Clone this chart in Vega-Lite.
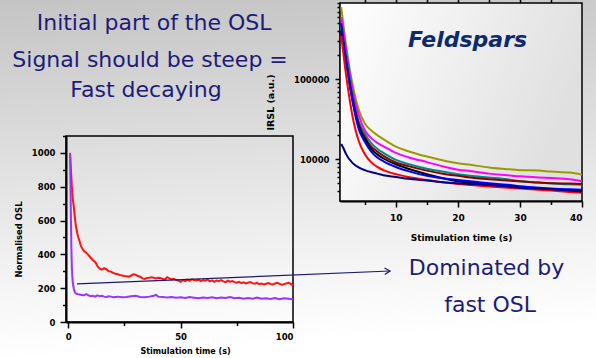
{
  "$schema": "https://vega.github.io/schema/vega-lite/v6.json",
  "width": 596,
  "height": 358,
  "padding": 0,
  "autosize": {"type": "none"},
  "config": {
    "view": {"stroke": null, "fill": {"gradient": "linear", "x1": 0, "y1": 0, "x2": 0.1, "y2": 1, "stops": [{"offset": 0, "color": "#c4c4c4"}, {"offset": 0.8, "color": "#f5f5f5"}, {"offset": 1, "color": "#ffffff"}]}},
    "font": "DejaVu Sans",
    "axis": {"domainColor": "#000000", "domainWidth": 2, "tickColor": "#000000", "tickWidth": 1.5, "labelColor": "#000000", "labelFont": "DejaVu Sans", "labelFontWeight": "bold", "labelFontSize": 8.5, "titleFont": "DejaVu Sans", "titleFontWeight": "bold", "titleFontSize": 8.5, "titleColor": "#000000", "grid": false}
  },
  "layer": [
    {
      "data": {"values": [{}]},
      "mark": {"type": "rect", "fill": "transparent", "stroke": "#000000", "strokeWidth": 1.5},
      "encoding": {"x": {"datum": -1, "type": "quantitative", "scale": {"domain": [-1, 100], "range": [66, 293], "nice": false, "zero": false}, "axis": null}, "x2": {"datum": 100}, "y": {"datum": 0, "type": "quantitative", "scale": {"domain": [0, 1100], "range": [322, 136], "nice": false, "zero": false}, "axis": null}, "y2": {"datum": 1100}}
    },
    {
      "data": {"values": [
        {"s": "r", "t": 0.8, "v": 1000}, {"s": "r", "t": 1.2, "v": 900}, {"s": "r", "t": 1.6, "v": 800}, {"s": "r", "t": 2, "v": 730}, {"s": "r", "t": 2.5, "v": 680}, {"s": "r", "t": 3, "v": 610}, {"s": "r", "t": 3.5, "v": 560}, {"s": "r", "t": 4, "v": 525}, {"s": "r", "t": 4.5, "v": 500}, {"s": "r", "t": 5, "v": 480}, {"s": "r", "t": 5.5, "v": 455}, {"s": "r", "t": 6, "v": 440}, {"s": "r", "t": 7, "v": 420}, {"s": "r", "t": 8, "v": 410}, {"s": "r", "t": 9, "v": 395}, {"s": "r", "t": 10, "v": 380}, {"s": "r", "t": 11, "v": 365}, {"s": "r", "t": 12, "v": 355}, {"s": "r", "t": 13, "v": 330}, {"s": "r", "t": 14, "v": 315}, {"s": "r", "t": 15, "v": 310}, {"s": "r", "t": 16, "v": 318}, {"s": "r", "t": 17, "v": 312}, {"s": "r", "t": 18, "v": 300}, {"s": "r", "t": 19, "v": 298}, {"s": "r", "t": 20, "v": 290}, {"s": "r", "t": 21, "v": 285}, {"s": "r", "t": 22, "v": 282}, {"s": "r", "t": 23, "v": 278}, {"s": "r", "t": 24, "v": 275}, {"s": "r", "t": 25, "v": 272}, {"s": "r", "t": 26, "v": 270}, {"s": "r", "t": 27, "v": 268}, {"s": "r", "t": 28, "v": 275}, {"s": "r", "t": 29, "v": 282}, {"s": "r", "t": 30, "v": 280}, {"s": "r", "t": 31, "v": 272}, {"s": "r", "t": 32, "v": 268}, {"s": "r", "t": 33, "v": 258}, {"s": "r", "t": 34, "v": 255}, {"s": "r", "t": 35, "v": 260}, {"s": "r", "t": 36, "v": 262}, {"s": "r", "t": 37, "v": 265}, {"s": "r", "t": 38, "v": 262}, {"s": "r", "t": 39, "v": 258}, {"s": "r", "t": 40, "v": 262}, {"s": "r", "t": 41, "v": 260}, {"s": "r", "t": 42, "v": 255}, {"s": "r", "t": 43, "v": 250}, {"s": "r", "t": 44, "v": 265}, {"s": "r", "t": 45, "v": 258}, {"s": "r", "t": 46, "v": 252}, {"s": "r", "t": 47, "v": 255}, {"s": "r", "t": 48, "v": 248}, {"s": "r", "t": 49, "v": 245}, {"s": "r", "t": 50, "v": 238}, {"s": "r", "t": 51, "v": 248}, {"s": "r", "t": 52, "v": 242}, {"s": "r", "t": 53, "v": 250}, {"s": "r", "t": 54, "v": 245}, {"s": "r", "t": 55, "v": 252}, {"s": "r", "t": 56, "v": 248}, {"s": "r", "t": 57, "v": 245}, {"s": "r", "t": 58, "v": 250}, {"s": "r", "t": 59, "v": 242}, {"s": "r", "t": 60, "v": 248}, {"s": "r", "t": 61, "v": 244}, {"s": "r", "t": 62, "v": 252}, {"s": "r", "t": 63, "v": 240}, {"s": "r", "t": 64, "v": 246}, {"s": "r", "t": 65, "v": 238}, {"s": "r", "t": 66, "v": 245}, {"s": "r", "t": 67, "v": 242}, {"s": "r", "t": 68, "v": 248}, {"s": "r", "t": 69, "v": 240}, {"s": "r", "t": 70, "v": 236}, {"s": "r", "t": 71, "v": 244}, {"s": "r", "t": 72, "v": 238}, {"s": "r", "t": 73, "v": 242}, {"s": "r", "t": 74, "v": 236}, {"s": "r", "t": 75, "v": 232}, {"s": "r", "t": 76, "v": 238}, {"s": "r", "t": 77, "v": 230}, {"s": "r", "t": 78, "v": 235}, {"s": "r", "t": 79, "v": 228}, {"s": "r", "t": 80, "v": 232}, {"s": "r", "t": 81, "v": 236}, {"s": "r", "t": 82, "v": 230}, {"s": "r", "t": 83, "v": 226}, {"s": "r", "t": 84, "v": 232}, {"s": "r", "t": 85, "v": 224}, {"s": "r", "t": 86, "v": 228}, {"s": "r", "t": 87, "v": 222}, {"s": "r", "t": 88, "v": 226}, {"s": "r", "t": 89, "v": 230}, {"s": "r", "t": 90, "v": 225}, {"s": "r", "t": 91, "v": 222}, {"s": "r", "t": 92, "v": 228}, {"s": "r", "t": 93, "v": 232}, {"s": "r", "t": 94, "v": 226}, {"s": "r", "t": 95, "v": 220}, {"s": "r", "t": 96, "v": 224}, {"s": "r", "t": 97, "v": 228}, {"s": "r", "t": 98, "v": 232}, {"s": "r", "t": 99, "v": 225}, {"s": "r", "t": 100, "v": 215},
        {"s": "p", "t": 0.8, "v": 1000}, {"s": "p", "t": 1, "v": 820}, {"s": "p", "t": 1.2, "v": 600}, {"s": "p", "t": 1.4, "v": 430}, {"s": "p", "t": 1.6, "v": 330}, {"s": "p", "t": 1.8, "v": 270}, {"s": "p", "t": 2, "v": 235}, {"s": "p", "t": 2.5, "v": 195}, {"s": "p", "t": 3, "v": 175}, {"s": "p", "t": 3.5, "v": 168}, {"s": "p", "t": 4, "v": 165}, {"s": "p", "t": 5, "v": 162}, {"s": "p", "t": 6, "v": 160}, {"s": "p", "t": 7, "v": 158}, {"s": "p", "t": 8, "v": 165}, {"s": "p", "t": 9, "v": 158}, {"s": "p", "t": 10, "v": 152}, {"s": "p", "t": 11, "v": 155}, {"s": "p", "t": 12, "v": 150}, {"s": "p", "t": 13, "v": 158}, {"s": "p", "t": 14, "v": 152}, {"s": "p", "t": 15, "v": 155}, {"s": "p", "t": 16, "v": 150}, {"s": "p", "t": 17, "v": 148}, {"s": "p", "t": 18, "v": 152}, {"s": "p", "t": 19, "v": 150}, {"s": "p", "t": 20, "v": 147}, {"s": "p", "t": 22, "v": 150}, {"s": "p", "t": 24, "v": 146}, {"s": "p", "t": 26, "v": 148}, {"s": "p", "t": 28, "v": 152}, {"s": "p", "t": 30, "v": 155}, {"s": "p", "t": 32, "v": 148}, {"s": "p", "t": 34, "v": 146}, {"s": "p", "t": 36, "v": 150}, {"s": "p", "t": 38, "v": 155}, {"s": "p", "t": 39, "v": 160}, {"s": "p", "t": 40, "v": 150}, {"s": "p", "t": 42, "v": 148}, {"s": "p", "t": 44, "v": 145}, {"s": "p", "t": 46, "v": 148}, {"s": "p", "t": 48, "v": 143}, {"s": "p", "t": 50, "v": 146}, {"s": "p", "t": 52, "v": 142}, {"s": "p", "t": 54, "v": 148}, {"s": "p", "t": 56, "v": 144}, {"s": "p", "t": 58, "v": 140}, {"s": "p", "t": 60, "v": 145}, {"s": "p", "t": 62, "v": 142}, {"s": "p", "t": 64, "v": 146}, {"s": "p", "t": 66, "v": 140}, {"s": "p", "t": 68, "v": 145}, {"s": "p", "t": 70, "v": 142}, {"s": "p", "t": 72, "v": 148}, {"s": "p", "t": 74, "v": 140}, {"s": "p", "t": 76, "v": 143}, {"s": "p", "t": 78, "v": 138}, {"s": "p", "t": 80, "v": 142}, {"s": "p", "t": 82, "v": 138}, {"s": "p", "t": 84, "v": 144}, {"s": "p", "t": 86, "v": 137}, {"s": "p", "t": 88, "v": 140}, {"s": "p", "t": 90, "v": 136}, {"s": "p", "t": 92, "v": 142}, {"s": "p", "t": 94, "v": 135}, {"s": "p", "t": 96, "v": 140}, {"s": "p", "t": 98, "v": 138}, {"s": "p", "t": 100, "v": 135}
      ]},
      "mark": {"type": "line", "strokeWidth": 2},
      "encoding": {
        "x": {"field": "t", "type": "quantitative", "scale": {"domain": [-1, 100], "range": [66, 293], "nice": false, "zero": false},
          "axis": {"orient": "bottom", "offset": -36, "values": [0, 25, 50, 75, 100], "labelExpr": "datum.value % 50 === 0 ? datum.label : ''", "tickSize": {"condition": {"test": "datum.value % 50 === 0", "value": 6}, "value": 3.5}, "labelPadding": 4, "title": "Stimulation time (s)", "titleFontSize": 8, "titlePadding": 7, "titleX": 185}},
        "y": {"field": "v", "type": "quantitative", "scale": {"domain": [0, 1100], "range": [322, 136], "nice": false, "zero": false},
          "axis": {"orient": "left", "offset": -66, "values": [0, 100, 200, 300, 400, 500, 600, 700, 800, 900, 1000, 1100], "format": "d", "labelExpr": "datum.value % 200 === 0 && datum.value <= 1000 ? datum.label : ''", "tickSize": {"condition": {"test": "datum.value % 200 === 0", "value": 6}, "value": 3.5}, "labelPadding": 5, "title": "Normalised OSL", "titlePadding": 8, "titleY": 239}},
        "color": {"field": "s", "type": "nominal", "scale": {"domain": ["r", "p"], "range": ["#ff1414", "#9933ff"]}, "legend": null}
      }
    },
    {
      "data": {"values": [{}]},
      "mark": {"type": "rect", "stroke": "#000000", "strokeWidth": 1.5, "fill": {"gradient": "linear", "x1": 0, "y1": 0, "x2": 1, "y2": 0.3, "stops": [{"offset": 0, "color": "#ffffff"}, {"offset": 1, "color": "#e0e0e0"}]}},
      "encoding": {"x": {"datum": 1, "type": "quantitative", "scale": {"domain": [1, 40], "range": [340, 582], "nice": false, "zero": false}, "axis": {"orient": "top", "offset": -3, "values": [5, 10, 15, 20, 25, 30, 35], "labels": false, "domain": false, "tickSize": 5, "title": null}}, "x2": {"datum": 40}, "y": {"datum": 3000, "type": "quantitative", "scale": {"type": "log", "domain": [3000, 900000], "range": [201, 3], "nice": false}, "axis": null}, "y2": {"datum": 900000}}
    },
    {
      "data": {"values": [
        {"s": "ol", "t": 1.2, "v": 800000}, {"s": "ol", "t": 2, "v": 260000}, {"s": "ol", "t": 3, "v": 88000}, {"s": "ol", "t": 4, "v": 42000}, {"s": "ol", "t": 5, "v": 28000}, {"s": "ol", "t": 6, "v": 23000}, {"s": "ol", "t": 7, "v": 20000}, {"s": "ol", "t": 8, "v": 17800}, {"s": "ol", "t": 10, "v": 14400}, {"s": "ol", "t": 12, "v": 12600}, {"s": "ol", "t": 15, "v": 10800}, {"s": "ol", "t": 18, "v": 9500}, {"s": "ol", "t": 20, "v": 8900}, {"s": "ol", "t": 22, "v": 8500}, {"s": "ol", "t": 25, "v": 7900}, {"s": "ol", "t": 28, "v": 7500}, {"s": "ol", "t": 30, "v": 7300}, {"s": "ol", "t": 33, "v": 7200}, {"s": "ol", "t": 35, "v": 7000}, {"s": "ol", "t": 38, "v": 6800}, {"s": "ol", "t": 40, "v": 6400},
        {"s": "mg", "t": 1.2, "v": 600000}, {"s": "mg", "t": 2, "v": 230000}, {"s": "mg", "t": 3, "v": 75000}, {"s": "mg", "t": 4, "v": 36000}, {"s": "mg", "t": 5, "v": 23000}, {"s": "mg", "t": 6, "v": 18500}, {"s": "mg", "t": 7, "v": 16000}, {"s": "mg", "t": 8, "v": 14500}, {"s": "mg", "t": 10, "v": 12000}, {"s": "mg", "t": 12, "v": 10600}, {"s": "mg", "t": 15, "v": 9200}, {"s": "mg", "t": 18, "v": 8000}, {"s": "mg", "t": 20, "v": 7400}, {"s": "mg", "t": 22, "v": 7100}, {"s": "mg", "t": 25, "v": 6600}, {"s": "mg", "t": 28, "v": 6300}, {"s": "mg", "t": 30, "v": 6100}, {"s": "mg", "t": 33, "v": 5900}, {"s": "mg", "t": 35, "v": 5800}, {"s": "mg", "t": 38, "v": 5600}, {"s": "mg", "t": 40, "v": 5300},
        {"s": "tl", "t": 1.2, "v": 450000}, {"s": "tl", "t": 2, "v": 200000}, {"s": "tl", "t": 3, "v": 65000}, {"s": "tl", "t": 4, "v": 30000}, {"s": "tl", "t": 5, "v": 21000}, {"s": "tl", "t": 6, "v": 16000}, {"s": "tl", "t": 7, "v": 13500}, {"s": "tl", "t": 8, "v": 12000}, {"s": "tl", "t": 10, "v": 9800}, {"s": "tl", "t": 12, "v": 8700}, {"s": "tl", "t": 15, "v": 7600}, {"s": "tl", "t": 18, "v": 6900}, {"s": "tl", "t": 20, "v": 6500}, {"s": "tl", "t": 22, "v": 6200}, {"s": "tl", "t": 25, "v": 5900}, {"s": "tl", "t": 28, "v": 5600}, {"s": "tl", "t": 30, "v": 5300}, {"s": "tl", "t": 33, "v": 5100}, {"s": "tl", "t": 35, "v": 5000}, {"s": "tl", "t": 38, "v": 4850}, {"s": "tl", "t": 40, "v": 4800},
        {"s": "dr", "t": 1.2, "v": 370000}, {"s": "dr", "t": 2, "v": 170000}, {"s": "dr", "t": 3, "v": 60000}, {"s": "dr", "t": 4, "v": 28000}, {"s": "dr", "t": 5, "v": 19000}, {"s": "dr", "t": 6, "v": 14500}, {"s": "dr", "t": 7, "v": 12500}, {"s": "dr", "t": 8, "v": 11000}, {"s": "dr", "t": 10, "v": 9100}, {"s": "dr", "t": 12, "v": 8200}, {"s": "dr", "t": 15, "v": 7200}, {"s": "dr", "t": 18, "v": 6500}, {"s": "dr", "t": 20, "v": 6200}, {"s": "dr", "t": 22, "v": 5900}, {"s": "dr", "t": 25, "v": 5600}, {"s": "dr", "t": 28, "v": 5400}, {"s": "dr", "t": 30, "v": 5300}, {"s": "dr", "t": 33, "v": 5100}, {"s": "dr", "t": 35, "v": 5000}, {"s": "dr", "t": 38, "v": 4950}, {"s": "dr", "t": 40, "v": 4900},
        {"s": "bk", "t": 1.2, "v": 400000}, {"s": "bk", "t": 2, "v": 160000}, {"s": "bk", "t": 3, "v": 55000}, {"s": "bk", "t": 4, "v": 26000}, {"s": "bk", "t": 5, "v": 18000}, {"s": "bk", "t": 6, "v": 13500}, {"s": "bk", "t": 7, "v": 11500}, {"s": "bk", "t": 8, "v": 10200}, {"s": "bk", "t": 10, "v": 8600}, {"s": "bk", "t": 12, "v": 7600}, {"s": "bk", "t": 15, "v": 6500}, {"s": "bk", "t": 18, "v": 5700}, {"s": "bk", "t": 20, "v": 5300}, {"s": "bk", "t": 22, "v": 5100}, {"s": "bk", "t": 25, "v": 4800}, {"s": "bk", "t": 28, "v": 4600}, {"s": "bk", "t": 30, "v": 4500}, {"s": "bk", "t": 33, "v": 4300}, {"s": "bk", "t": 35, "v": 4200}, {"s": "bk", "t": 38, "v": 4050}, {"s": "bk", "t": 40, "v": 3950},
        {"s": "bl", "t": 1.2, "v": 500000}, {"s": "bl", "t": 2, "v": 170000}, {"s": "bl", "t": 3, "v": 55000}, {"s": "bl", "t": 4, "v": 24000}, {"s": "bl", "t": 5, "v": 16500}, {"s": "bl", "t": 6, "v": 12500}, {"s": "bl", "t": 7, "v": 10500}, {"s": "bl", "t": 8, "v": 9400}, {"s": "bl", "t": 10, "v": 8000}, {"s": "bl", "t": 12, "v": 7100}, {"s": "bl", "t": 15, "v": 6200}, {"s": "bl", "t": 18, "v": 5700}, {"s": "bl", "t": 20, "v": 5500}, {"s": "bl", "t": 22, "v": 5300}, {"s": "bl", "t": 25, "v": 5000}, {"s": "bl", "t": 28, "v": 4800}, {"s": "bl", "t": 30, "v": 4600}, {"s": "bl", "t": 33, "v": 4400}, {"s": "bl", "t": 35, "v": 4300}, {"s": "bl", "t": 38, "v": 4200}, {"s": "bl", "t": 40, "v": 4150},
        {"s": "rd", "t": 1.2, "v": 350000}, {"s": "rd", "t": 2, "v": 110000}, {"s": "rd", "t": 3, "v": 35000}, {"s": "rd", "t": 4, "v": 17000}, {"s": "rd", "t": 5, "v": 11500}, {"s": "rd", "t": 6, "v": 9200}, {"s": "rd", "t": 7, "v": 8000}, {"s": "rd", "t": 8, "v": 7300}, {"s": "rd", "t": 10, "v": 6500}, {"s": "rd", "t": 12, "v": 6000}, {"s": "rd", "t": 15, "v": 5500}, {"s": "rd", "t": 18, "v": 5100}, {"s": "rd", "t": 20, "v": 4900}, {"s": "rd", "t": 22, "v": 4750}, {"s": "rd", "t": 25, "v": 4550}, {"s": "rd", "t": 28, "v": 4400}, {"s": "rd", "t": 30, "v": 4300}, {"s": "rd", "t": 33, "v": 4150}, {"s": "rd", "t": 35, "v": 4050}, {"s": "rd", "t": 38, "v": 3900}, {"s": "rd", "t": 40, "v": 3800},
        {"s": "nv", "t": 1.2, "v": 15500}, {"s": "nv", "t": 1.5, "v": 14000}, {"s": "nv", "t": 2, "v": 11500}, {"s": "nv", "t": 3, "v": 9000}, {"s": "nv", "t": 4, "v": 7900}, {"s": "nv", "t": 5, "v": 7300}, {"s": "nv", "t": 6, "v": 6900}, {"s": "nv", "t": 7, "v": 6600}, {"s": "nv", "t": 8, "v": 6300}, {"s": "nv", "t": 10, "v": 6000}, {"s": "nv", "t": 12, "v": 5700}, {"s": "nv", "t": 15, "v": 5400}, {"s": "nv", "t": 18, "v": 5100}, {"s": "nv", "t": 20, "v": 5000}, {"s": "nv", "t": 22, "v": 4900}, {"s": "nv", "t": 25, "v": 4750}, {"s": "nv", "t": 28, "v": 4550}, {"s": "nv", "t": 30, "v": 4400}, {"s": "nv", "t": 33, "v": 4300}, {"s": "nv", "t": 35, "v": 4200}, {"s": "nv", "t": 38, "v": 4050}, {"s": "nv", "t": 40, "v": 3950}
      ]},
      "mark": {"type": "line", "strokeWidth": 2, "interpolate": "monotone"},
      "encoding": {
        "x": {"field": "t", "type": "quantitative", "scale": {"domain": [1, 40], "range": [340, 582], "nice": false, "zero": false},
          "axis": {"orient": "bottom", "offset": -157, "values": [5, 10, 15, 20, 25, 30, 35, 40], "labelExpr": "datum.value % 10 === 0 ? datum.label : ''", "tickSize": {"condition": {"test": "datum.value % 10 === 0", "value": 6}, "value": 3.5}, "labelPadding": 6, "labelFontSize": 9, "title": "Stimulation time (s)", "titleFontSize": 9, "titlePadding": 11}},
        "y": {"field": "v", "type": "quantitative", "scale": {"type": "log", "domain": [3000, 900000], "range": [201, 3], "nice": false},
          "axis": {"orient": "left", "offset": -340, "values": [4000, 5000, 6000, 7000, 8000, 9000, 10000, 20000, 30000, 40000, 50000, 60000, 70000, 80000, 90000, 100000, 200000, 300000, 400000, 500000, 600000, 700000, 800000, 900000], "format": "d", "labelExpr": "(datum.value === 10000 || datum.value === 100000) ? datum.label : ''", "tickSize": {"condition": {"test": "datum.value === 10000 || datum.value === 100000", "value": 5}, "value": 3}, "labelPadding": 6, "title": "IRSL (a.u.)", "titleFontSize": 9.5, "titlePadding": 18}},
        "color": {"field": "s", "type": "nominal", "scale": {"domain": ["ol", "mg", "tl", "dr", "bk", "bl", "rd", "nv"], "range": ["#9a9a00", "#ff00ff", "#008b8b", "#8b0000", "#000000", "#0000ff", "#ff0000", "#00008b"]}, "legend": null}
      }
    },
    {
      "data": {"values": [{"label": "Feldspars", "t": 21.55, "v": 253000}]},
      "mark": {"type": "text", "font": "DejaVu Sans", "fontSize": 22, "fontWeight": "bold", "fontStyle": "italic", "color": "#0e2a6e", "align": "center", "baseline": "alphabetic"},
      "encoding": {"x": {"field": "t", "type": "quantitative", "scale": {"domain": [1, 40], "range": [340, 582], "nice": false, "zero": false}, "axis": null}, "y": {"field": "v", "type": "quantitative", "scale": {"type": "log", "domain": [3000, 900000], "range": [201, 3], "nice": false}, "axis": null}, "text": {"field": "label"}}
    },
    {
      "data": {"values": [{"x": 3.9, "y": 225, "x2": 143.2, "y2": 301.6}]},
      "mark": {"type": "rule", "stroke": "#1a1a6e", "strokeWidth": 1.2},
      "encoding": {"x": {"field": "x", "type": "quantitative", "scale": {"domain": [-1, 100], "range": [66, 293], "nice": false, "zero": false}, "axis": null}, "y": {"field": "y", "type": "quantitative", "scale": {"domain": [0, 1100], "range": [322, 136], "nice": false, "zero": false}, "axis": null}, "x2": {"field": "x2"}, "y2": {"field": "y2"}}
    },
    {
      "data": {"values": [{"x": 3.9, "y": 225, "x2": 143.2, "y2": 301.6}]},
      "mark": {"type": "point", "shape": "M-1,-0.6L0,0L-1,0.6", "size": 120, "filled": false, "stroke": "#1a1a6e", "strokeWidth": 1.2, "angle": -2.5, "opacity": 1},
      "encoding": {"x": {"field": "x2", "type": "quantitative", "scale": {"domain": [-1, 100], "range": [66, 293], "nice": false, "zero": false}, "axis": null}, "y": {"field": "y2", "type": "quantitative", "scale": {"domain": [0, 1100], "range": [322, 136], "nice": false, "zero": false}, "axis": null}}
    },
    {
      "data": {"values": [
        {"label": "Initial part of the OSL", "x": 38.2, "y": 1727},
        {"label": "Signal should be steep =", "x": 36.4, "y": 1510},
        {"label": "Fast decaying", "x": 34.6, "y": 1332},
        {"label": "Dominated by", "x": 186.1, "y": 278},
        {"label": "fast OSL", "x": 187.7, "y": 61}
      ]},
      "mark": {"type": "text", "font": "DejaVu Sans", "fontSize": 22, "color": "#1c1c78", "align": "center", "baseline": "alphabetic"},
      "encoding": {"x": {"field": "x", "type": "quantitative", "scale": {"domain": [-1, 100], "range": [66, 293], "nice": false, "zero": false}, "axis": null}, "y": {"field": "y", "type": "quantitative", "scale": {"domain": [0, 1100], "range": [322, 136], "nice": false, "zero": false}, "axis": null}, "text": {"field": "label"}}
    }
  ],
  "resolve": {"scale": {"x": "independent", "y": "independent", "color": "independent"}, "axis": {"x": "independent", "y": "independent"}}
}
